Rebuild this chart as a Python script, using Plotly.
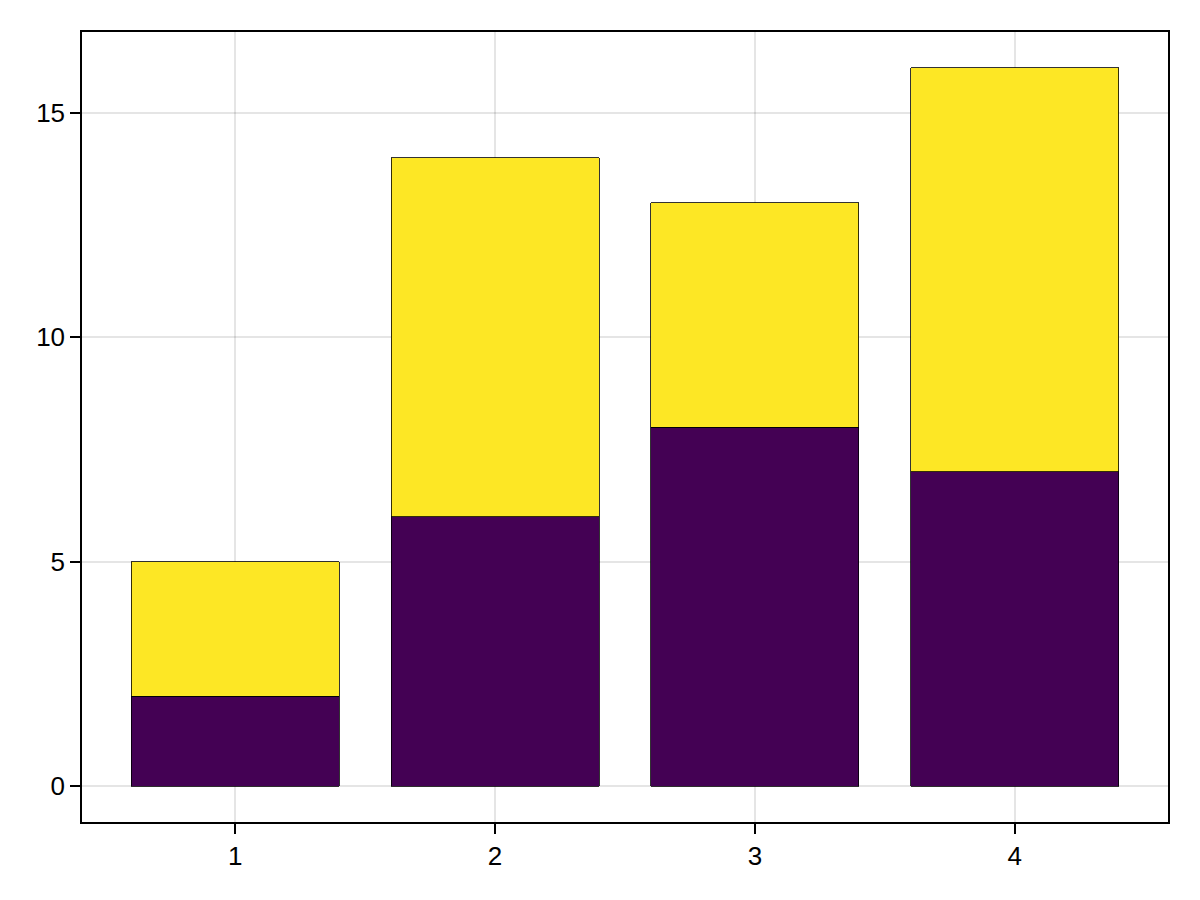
import plotly.graph_objects as go

categories = [1, 2, 3, 4]
bottom_vals = [2, 6, 8, 7]
top_vals = [3, 8, 5, 9]
colors = ["#440154", "#FDE725"]

fig = go.Figure()
fig.add_trace(go.Bar(x=categories, y=bottom_vals, width=0.8, marker=dict(color=colors[0], line=dict(color="black", width=0.8))))
fig.add_trace(go.Bar(x=categories, y=top_vals, width=0.8, marker=dict(color=colors[1], line=dict(color="black", width=0.8))))

axis_common = dict(
    showgrid=True, gridcolor="rgba(0,0,0,0.1)", gridwidth=1.5,
    zeroline=False, showline=True, linecolor="black", linewidth=1.5, mirror=True,
    ticks="outside", ticklen=10, tickwidth=1.5, tickcolor="black",
    tickfont=dict(family="Liberation Sans, Arial, sans-serif", size=26, color="black"),
)
fig.update_layout(
    barmode="stack", showlegend=False,
    width=1200, height=900,
    margin=dict(l=82, r=32, t=32, b=78),
    plot_bgcolor="white", paper_bgcolor="white",
    xaxis=dict(range=[0.41, 4.59], tickvals=categories, **axis_common),
    yaxis=dict(range=[-0.8, 16.8], tickvals=[0, 5, 10, 15], **axis_common),
)
fig.write_html("out.html", config={"displayModeBar": False}, post_script="document.body.style.margin='0';")
